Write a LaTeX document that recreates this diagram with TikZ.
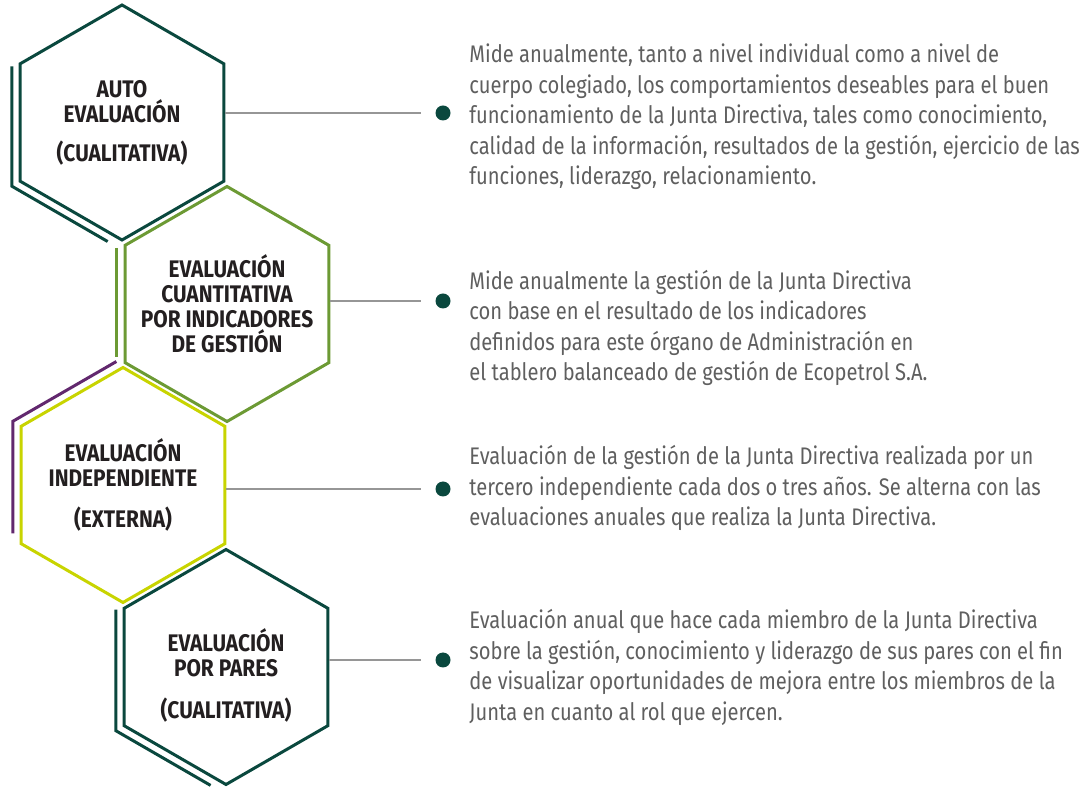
\documentclass[tikz,border=0pt]{standalone}
\usepackage{fontspec}
\setmainfont{Fira Sans}[FakeStretch=0.84, BoldFeatures={FakeStretch=0.87}]
\usepackage{tikz}
\usetikzlibrary{shapes.geometric, calc, positioning}

\definecolor{tealcol}{RGB}{10,72,62}
\definecolor{greencol}{RGB}{108,154,52}
\definecolor{limecol}{RGB}{200,212,0}
\definecolor{purplecol}{RGB}{98,40,110}
\definecolor{linecol}{RGB}{150,150,150}
\definecolor{textcol}{RGB}{95,95,95}
\definecolor{labelcol}{RGB}{35,31,32}

\begin{document}
\begin{tikzpicture}[x=0.5pt, y=0.5pt,
  hexa/.style={regular polygon, regular polygon sides=6,
    shape border rotate=30, minimum size=117.5pt, inner sep=0pt,
    line width=1.5pt},
  hexlabel/.style={align=center, text=labelcol, inner sep=0pt,
    font=\bfseries\fontsize{12}{12.5}\selectfont},
  accent/.style={line width=1.5pt},
  conn/.style={linecol, line width=0.6pt},
  dot/.style={circle, fill=tealcol, minimum size=7.5pt, inner sep=0pt},
  desc/.style={anchor=base west, align=left, inner sep=0pt,
    text=textcol, font=\fontsize{12}{15.25}\selectfont}]

  \useasboundingbox (0,0) rectangle (1082,-790);

  % Hexagons
  \node[hexa, draw=tealcol] (auto) at (122,-122.5) {};
  \node[hexa, draw=greencol] (cuant) at (227,-304) {};
  \node[hexa, draw=limecol] (indep) at (123,-485) {};
  \node[hexa, draw=tealcol] (pares) at (226,-667) {};

  % Hexagon labels
  \node[hexlabel] (lauto) at (auto)
    {AUTO\\EVALUACIÓN\\[7pt](CUALITATIVA)};
  \node[hexlabel] (lcuant) at (cuant)
    {EVALUACIÓN\\CUANTITATIVA\\POR INDICADORES\\DE GESTIÓN};
  \node[hexlabel] (lindep) at (indep)
    {EVALUACIÓN\\INDEPENDIENTE\\[8pt](EXTERNA)};
  \node[hexlabel] (lpares) at ($(pares)+(0,-8.5)$)
    {EVALUACIÓN\\POR PARES\\[8.5pt](CUALITATIVA)};

  % Outer corner points for the accent lines
  \foreach \h in {auto, cuant, indep, pares}
    \foreach \a in {90, 150, 210, 270}
      \coordinate (\h-\a) at ($(\h)+(\a:127.3)$);

  % Accent lines
  \draw[accent, tealcol] ($(auto-150)!0.06!(auto-210)$)
    -- (auto-210) -- ($(auto-210)!0.87!(auto-270)$);
  \draw[accent, greencol] ($(cuant-150)!0.06!(cuant-210)$)
    -- ($(cuant-150)!0.92!(cuant-210)$);
  \draw[accent, purplecol] ($(indep-90)!0.06!(indep-150)$)
    -- (indep-150) -- ($(indep-150)!0.88!(indep-210)$);
  \draw[accent, tealcol] ($(pares-150)!0.05!(pares-210)$)
    -- (pares-210) -- ($(pares-210)!0.86!(pares-270)$);

  % Bullet dots
  \node[dot] (dauto) at (443,-113) {};
  \node[dot] (dcuant) at (443,-301) {};
  \node[dot] (dindep) at (443,-489) {};
  \node[dot] (dpares) at (443,-660) {};

  % Connectors
  \foreach \h in {auto, cuant, indep, pares}
    \draw[conn] (\h.0 |- d\h) -- ([xshift=-7pt]d\h.west);

  % Descriptions (anchored at the last baseline)
  \node[desc] (tauto) at (469,-185)
    {Mide anualmente, tanto a nivel individual como a nivel de\\
     cuerpo colegiado, los comportamientos deseables para el buen\\
     funcionamiento de la Junta Directiva, tales como conocimiento,\\
     calidad de la información, resultados de la gestión, ejercicio de las\\
     funciones, liderazgo, relacionamiento.};
  \node[desc] (tcuant) at (469,-381)
    {Mide anualmente la gestión de la Junta Directiva\\
     con base en el resultado de los indicadores\\
     definidos para este órgano de Administración en\\
     el tablero balanceado de gestión de Ecopetrol S.A.};
  \node[desc] (tindep) at (469,-526)
    {Evaluación de la gestión de la Junta Directiva realizada por un\\
     tercero independiente cada dos o tres años. Se alterna con las\\
     evaluaciones anuales que realiza la Junta Directiva.};
  \node[desc] (tpares) at (469,-720)
    {Evaluación anual que hace cada miembro de la Junta Directiva\\
     sobre la gestión, conocimiento y liderazgo de sus pares con el fin\\
     de visualizar oportunidades de mejora entre los miembros de la\\
     Junta en cuanto al rol que ejercen.};

\end{tikzpicture}
\end{document}
